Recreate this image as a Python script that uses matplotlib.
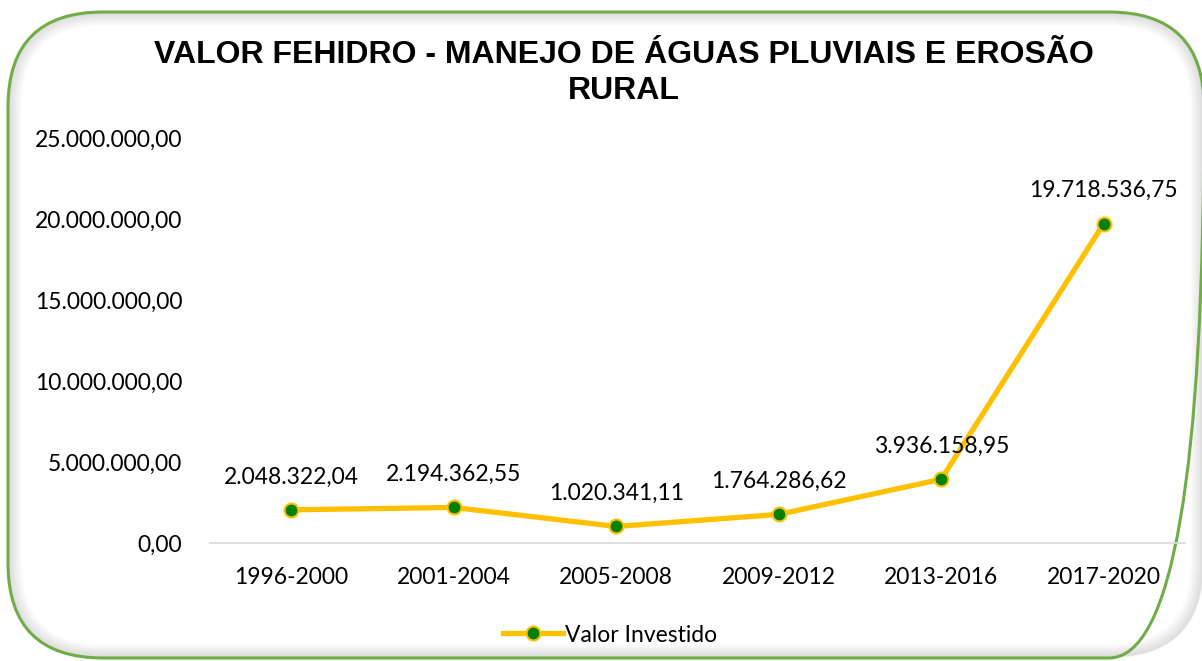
import matplotlib
matplotlib.use("Agg")
import matplotlib.pyplot as plt
from matplotlib.patches import FancyBboxPatch
from matplotlib.lines import Line2D

categories = ["1996-2000", "2001-2004", "2005-2008", "2009-2012", "2013-2016", "2017-2020"]
values = [2048322.04, 2194362.55, 1020341.11, 1764286.62, 3936158.95, 19718536.75]
value_labels = ["2.048.322,04", "2.194.362,55", "1.020.341,11", "1.764.286,62", "3.936.158,95", "19.718.536,75"]
yticks = [0, 5000000, 10000000, 15000000, 20000000, 25000000]
ytick_labels = ["0,00", "5.000.000,00", "10.000.000,00", "15.000.000,00", "20.000.000,00", "25.000.000,00"]
title = "VALOR FEHIDRO - MANEJO DE ÁGUAS PLUVIAIS E EROSÃO\nRURAL"
series_name = "Valor Investido"

W, H = 1202, 661
fig = plt.figure(figsize=(W / 100, H / 100), dpi=100)
fig.patch.set_facecolor("white")

# background frame
bg = fig.add_axes([0, 0, 1, 1])
bg.set_xlim(0, W)
bg.set_ylim(H, 0)
bg.axis("off")
x0, y0, x1, y1 = 8, 12, 1204, 658
r = 95
# inner shadow
for i in range(14):
    a = 0.13 * (1 - i / 14)
    p = FancyBboxPatch((x0 + i, y0 + i), (x1 - x0) - 2 * i, (y1 - y0) - 2 * i,
                       boxstyle=f"round,pad=0,rounding_size={r - i}",
                       fill=False, edgecolor=(0.3, 0.3, 0.3, a), linewidth=1.2)
    bg.add_patch(p)
frame = FancyBboxPatch((x0, y0), x1 - x0, y1 - y0,
                       boxstyle=f"round,pad=0,rounding_size={r}",
                       fill=False, edgecolor="#70AD47", linewidth=2.2)
bg.add_patch(frame)

fig.text(624 / W, 1 - 40 / H, title, ha="center", va="top", fontsize=23, fontweight="bold",
         family="Liberation Sans", linespacing=1.25)

ax = fig.add_axes([210 / W, 1 - 543 / H, (1185 - 210) / W, (543 - 138) / H])
ax.patch.set_alpha(0)
x = list(range(len(categories)))
ax.plot(x, values, color="#FFC000", linewidth=3.8, marker="o", markersize=10,
        markerfacecolor="#008000", markeredgecolor="#FFC000", markeredgewidth=1.5,
        solid_capstyle="round", zorder=3)
for xi, v, lab in zip(x, values, value_labels):
    ax.annotate(lab, (xi, v), xytext=(0, 16), textcoords="offset points",
                ha="center", va="bottom", fontsize=16.5, family="Lato", color="black")
ax.set_xlim(-0.5, len(categories) - 0.5)
ax.set_ylim(0, 25000000)
ax.set_yticks(yticks)
ax.set_yticklabels(ytick_labels, family="Lato", fontsize=16.5)
ax.set_xticks(x)
ax.set_xticklabels(categories, family="Lato", fontsize=16.5)
for s in ["top", "right", "left"]:
    ax.spines[s].set_visible(False)
ax.spines["bottom"].set_color("#D9D9D9")
ax.spines["bottom"].set_linewidth(1.2)
ax.tick_params(axis="x", length=0, pad=17)
ax.tick_params(axis="y", length=0, pad=20)

handle = Line2D([0], [0], color="#FFC000", linewidth=3.8, marker="o", markersize=10,
                markerfacecolor="#008000", markeredgecolor="#FFC000", markeredgewidth=1.5)
fig.legend([handle], [series_name], loc="center", bbox_to_anchor=(610 / W, 1 - 635 / H),
           frameon=False, prop={"family": "Lato", "size": 16.5}, handlelength=2.6,
           handletextpad=0.1)

fig.savefig("out.png", dpi=100)
